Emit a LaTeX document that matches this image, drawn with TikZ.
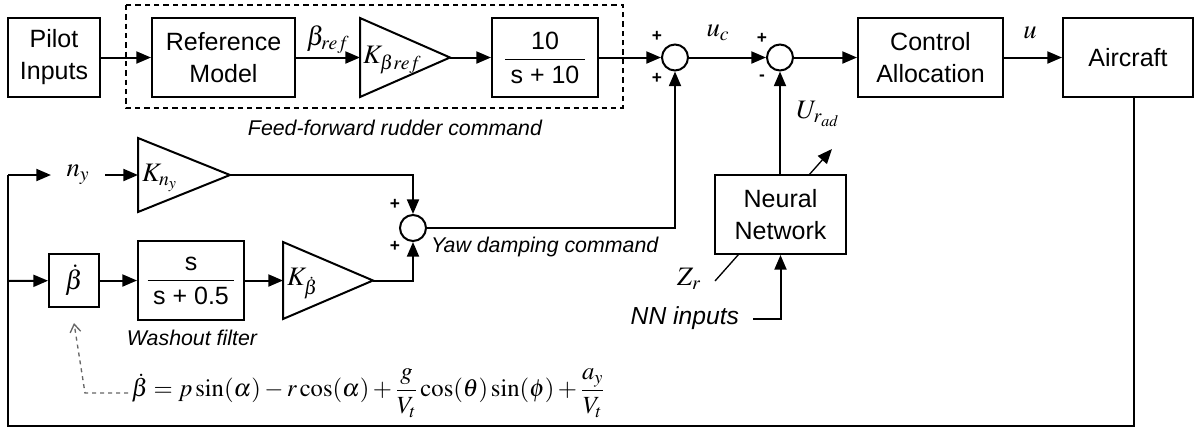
\documentclass[tikz,border=0pt]{standalone}
\usepackage{amsmath}
\usepackage{mathptmx}
\usepackage[no-math]{fontspec}
\setmainfont{Liberation Sans}
\usetikzlibrary{arrows.meta,calc}
\begin{document}
\begin{tikzpicture}[x=0.75pt,y=-0.75pt,
  line width=1.5pt,
  blk/.style={draw, rectangle, fill=white, line width=1.5pt, inner sep=0pt,
    font=\fontsize{18.75}{24}\selectfont, align=center},
  bsize/.style 2 args={minimum width=#1*0.75pt, minimum height=#2*0.75pt},
  sumc/.style={draw, circle, minimum size=19.5pt, inner sep=0pt, line width=1.5pt},
  arr/.style={-{Triangle[length=11pt,width=9pt]}},
  lbl/.style={font=\fontsize{16}{19}\selectfont\itshape, inner sep=0pt},
  mlbl/.style={font=\fontsize{20}{22}\selectfont, inner sep=0pt},
  sgn/.style={font=\fontsize{13}{13}\selectfont\bfseries, inner sep=0pt},
  tri/.style={line width=1.5pt, line join=miter}
]
\useasboundingbox (0,0) rectangle (1195,430);

% ---------- top row ----------
\node[blk, bsize={92}{79}] (pilot) at (54,57.5) {Pilot\\Inputs};
\node[blk, bsize={143}{79}] (ref) at (223.5,57.5) {Reference\\Model};
\draw[tri] (360,18) -- (450,57.5) -- (360,97) -- cycle;
\coordinate (kbref-in) at (360,57.5);
\coordinate (kbref-out) at (450,57.5);
\node[mlbl, anchor=west] (kbrefl) at (362,60) {$K_{\beta ref}$};
\node[blk, bsize={106}{79}] (tf10) at (545,57.5) {$\dfrac{\;\text{10}\;}{\;\text{s + 10}\;}$};
\node[sumc] (s1) at (675,57.5) {};
\node[sumc] (s2) at (780,57.5) {};
\node[blk, bsize={145}{79}] (ca) at (930.5,57.5) {Control\\Allocation};
\node[blk, bsize={130}{79}] (ac) at (1128,57.5) {Aircraft};

\draw[dashed, dash pattern=on 4pt off 3pt, line width=1.5pt] (126,5) rectangle (623,108);
\node[lbl] (ffl) at (395,128) {Feed-forward rudder command};

\draw[arr] (pilot) -- (ref);
\draw[arr] (ref) -- (kbref-in);
\draw[arr] (kbref-out) -- (tf10);
\draw[arr] (tf10) -- (s1);
\draw[arr] (s1) -- (s2);
\draw[arr] (s2) -- (ca);
\draw[arr] (ca) -- (ac);

\node[mlbl] (bref) at (328,40) {$\beta_{ref}$};
\node[mlbl] (uc) at (718,33) {$u_c$};
\node[mlbl] (ul) at (1030,33) {$u$};
\node[sgn] (p1a) at (657,36) {+};
\node[sgn] (p1b) at (657,78) {+};
\node[sgn] (p2a) at (762,38) {+};
\node[sgn] (p2b) at (762,78) {-};

% ---------- feedback ----------
\coordinate (fbr) at (1134,426);
\coordinate (fbl) at (8,426);
\coordinate (fbt) at (8,175);
\coordinate (fbm) at (8,281);
\draw (ac.south -| fbr) -- (fbr) -- (fbl) -- (fbt);

% n_y row
\node[mlbl, inner xsep=11pt] (ny) at (78,175) {$n_y$};
\draw[arr] (fbt) -- (ny);
\draw[tri] (138,138) -- (230,175) -- (138,212) -- cycle;
\coordinate (kny-in) at (138,175);
\coordinate (kny-out) at (230,175);
\node[mlbl, anchor=west] (knyl) at (141,178) {$K_{n_y}$};
\draw[arr] (ny) -- (kny-in);

\node[sumc] (s3) at (413,228) {};
\node[sgn] (p3a) at (395,204) {+};
\node[sgn] (p3b) at (395,246) {+};
\draw[arr] (kny-out) -| (s3.north);

% beta-dot row
\node[blk, bsize={50}{53}, font=\fontsize{20}{22}\selectfont] (bdot) at (74,280.5) {$\dot\beta$};
\node[blk, bsize={106}{79}] (wo) at (191,280.5) {$\dfrac{\;\text{s}\;}{\;\text{s + 0.5}\;}$};
\draw[tri] (283,242) -- (373,280.5) -- (283,319) -- cycle;
\coordinate (kbd-in) at (283,280.5);
\coordinate (kbd-out) at (373,280.5);
\node[mlbl, anchor=west] (kbdl) at (286,284) {$K_{\dot\beta}$};
\draw[arr] (fbm) -- (bdot);
\draw[arr] (bdot) -- (wo);
\draw[arr] (wo) -- (kbd-in);
\draw[arr] (kbd-out) -| (s3.south);
\draw[arr] (s3) -| (s1.south);
\node[lbl, anchor=west] (ydl) at (430,247) {Yaw damping command};
\node[lbl] (wol) at (192,338) {Washout filter};

% neural network
\coordinate (zr0) at (715,281);
\coordinate (zr1) at (832,149);
\draw[arr, line width=1pt] (zr0) -- (zr1);
\node[blk, bsize={131}{79}] (nn) at (780.5,214.5) {Neural\\Network};
\draw[arr] (nn.north -| s2) -- (s2.south);
\node[mlbl] (urad) at (818,114) {$U_{r_{ad}}$};
\node[mlbl] (zr) at (689,279) {$Z_r$};
\coordinate (nnin) at (753,319);
\draw[arr] (nnin) -| (nn.south);
\node[font=\fontsize{18.5}{22}\selectfont\itshape, inner sep=0pt, anchor=east] (nnl) at (740,318) {NN inputs};

% equation
\node[anchor=west, font=\fontsize{18.5}{18.5}\selectfont, inner sep=2pt] (eq) at (128,393)
  {$\dot\beta = p\sin(\alpha) - r\cos(\alpha) + \dfrac{g}{V_t}\cos(\theta)\sin(\phi) + \dfrac{a_y}{V_t}$};
\coordinate (dbend) at (85,393);
\coordinate (dtip) at (74,323);
\draw[dashed, line width=1pt, black!60, -{Straight Barb[length=6pt,width=8pt]}] (eq.west) -- (dbend) -- (dtip);
\end{tikzpicture}
\end{document}
